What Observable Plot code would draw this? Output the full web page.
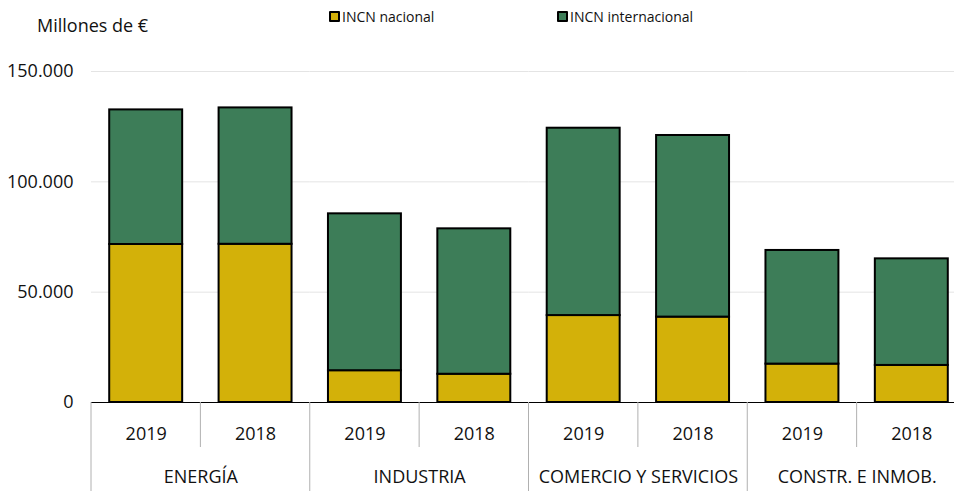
<!DOCTYPE html>
<html>
<head>
<meta charset="utf-8">
<script src="https://cdn.jsdelivr.net/npm/d3@7"></script>
<script src="https://cdn.jsdelivr.net/npm/@observablehq/plot@0.6"></script>
<style>
  html, body { margin: 0; padding: 0; background: #fff; }
  #wrap { position: relative; width: 954px; height: 491px; overflow: hidden; font-family: "Open Sans", sans-serif; color: #111; }
  #head { position: relative; height: 50px; }
  .unit { position: absolute; left: 37px; top: 13px; font-size: 18px; }
  .leg { position: absolute; top: 7px; font-size: 14px; display: flex; align-items: center; }
  .sw { width: 7px; height: 7px; border: 2px solid #000; border-radius: 1px; margin-right: 2px; }
  #chart svg { display: block; overflow: hidden; max-width: none; }
</style>
</head>
<body>
<div id="wrap">
  <div id="head"></div>
  <div id="chart"></div>
</div>
<script>
const sectors = ["ENERGÍA", "INDUSTRIA", "COMERCIO Y SERVICIOS", "CONSTR. E INMOB."];
const years = ["2019", "2018"];
const seriesNames = ["INCN nacional", "INCN internacional"];
const seriesColors = ["#d3b109", "#3d7d58"];
// values in millions of euros, order: ENERGÍA 2019, 2018, INDUSTRIA 2019, 2018, ...
const nacional = [71600, 71700, 14400, 12800, 39400, 38700, 17400, 16800];
const internacional = [61000, 61800, 71100, 65900, 84900, 82300, 51500, 48300];
const yTicks = [0, 50000, 100000, 150000];
const unitLabel = "Millones de €";

const data = [];
[nacional, internacional].forEach((vals, s) => {
  vals.forEach((v, i) => {
    data.push({sector: sectors[Math.floor(i / 2)], year: years[i % 2], serie: seriesNames[s], value: v});
  });
});

// header: unit label + legend
const head = document.getElementById("head");
const u = document.createElement("div");
u.className = "unit"; u.textContent = unitLabel; head.appendChild(u);
const legLeft = [329, 557];
seriesNames.forEach((n, i) => {
  const d = document.createElement("div");
  d.className = "leg"; d.style.left = legLeft[i] + "px";
  const sw = document.createElement("span");
  sw.className = "sw"; sw.style.background = seriesColors[i];
  d.appendChild(sw);
  const t = document.createElement("span"); t.textContent = n; d.appendChild(t);
  head.appendChild(d);
});

const fmt = d => d3.format(",")(d).replace(/,/g, ".");

const W = 966, H = 441;
const plot = Plot.plot({
  width: W,
  height: H,
  marginTop: 21,
  marginBottom: 89,
  marginLeft: 91,
  marginRight: 0,
  style: {fontFamily: "Open Sans, sans-serif", fontSize: "18px", color: "#111", background: "transparent"},
  fx: {domain: sectors, padding: 0, label: null, round: false},
  x: {domain: years, paddingInner: 0.333, paddingOuter: 0.1665, label: null, round: false},
  y: {domain: [0, 150000], label: null},
  color: {domain: seriesNames, range: seriesColors},
  marks: [
    Plot.gridY(yTicks, {stroke: "#e4e4e4", strokeOpacity: 1, strokeWidth: 1}),
    Plot.axisY(yTicks, {tickSize: 0, tickPadding: 18, tickFormat: fmt, label: null, fontSize: 18}),
    Plot.barY(data, {fx: "sector", x: "year", y: "value", fill: "serie", stroke: "#000", strokeWidth: 2, order: seriesNames}),
    Plot.ruleY([0], {stroke: "#000", strokeWidth: 1.2}),
    Plot.axisX({tickSize: 0, tickPadding: 25, fontSize: 18, label: null}),
    Plot.axisFx({anchor: "bottom", tickSize: 0, tickPadding: 68, fontSize: 18, label: null})
  ]
});
document.getElementById("chart").appendChild(plot);

// category separators derived from the fx scale
const fxs = plot.scale("fx");
const ys = plot.scale("y");
const y0 = Plot.scale({y: ys}).apply(0);
const step = (fxs.range[1] - fxs.range[0]) / fxs.domain.length;
const svg = d3.select(plot);
const g = svg.append("g").attr("stroke", "#b0b0b0").attr("stroke-width", 1);
for (let i = 0; i <= fxs.domain.length * 2; i++) {
  const x = fxs.range[0] + i * step / 2;
  const isGroup = i % 2 === 0;
  g.append("line")
    .attr("x1", x).attr("x2", x)
    .attr("y1", y0).attr("y2", isGroup ? H : y0 + 45);
}
</script>
</body>
</html>
